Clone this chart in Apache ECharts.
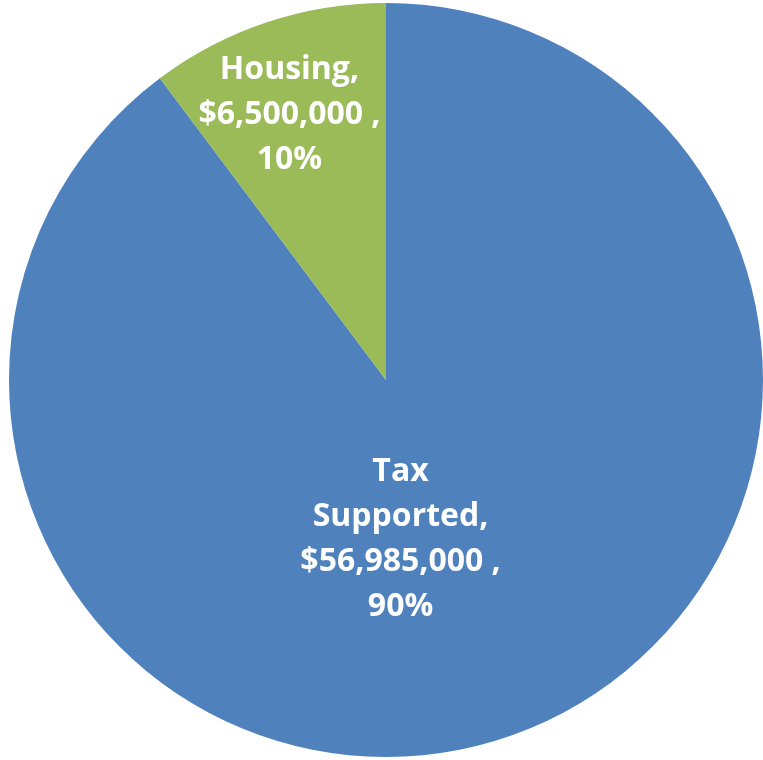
<!DOCTYPE html>
<html>
<head>
<meta charset="utf-8">
<script src="https://cdn.jsdelivr.net/npm/echarts@6/dist/echarts.min.js"></script>
<style>html,body{margin:0;padding:0;background:#fff;}#c{width:763px;height:760px;}</style>
</head>
<body>
<div id="c"></div>
<script>
const categories = ['Tax Supported', 'Housing'];
const values = [56985000, 6500000];
const colors = ['#4F81BD', '#9BBB59'];
const labelShift = [[-46, -22], [-36, -83]];

const chart = echarts.init(document.getElementById('c'), null, {renderer: 'canvas'});
chart.setOption({
  animation: false,
  series: [{
    type: 'pie',
    center: [386, 380],
    radius: [0, 377],
    startAngle: 90,
    clockwise: true,
    data: categories.map((n, i) => ({name: n, value: values[i], itemStyle: {color: colors[i]}})),
    label: {
      show: true,
      position: 'inside',
      color: '#fff',
      fontFamily: 'Open Sans',
      fontWeight: 'bold',
      fontSize: 32,
      lineHeight: 45,
      align: 'center',
      formatter: p => p.name.replace(' ', '\n') + ',\n$' + p.value.toLocaleString('en-US') + ' ,\n' + Math.round(p.percent) + '%'
    },
    labelLine: {show: false},
    labelLayout: p => ({dx: labelShift[p.dataIndex][0], dy: labelShift[p.dataIndex][1]}),
    emphasis: {disabled: true}
  }]
});
</script>
</body>
</html>
